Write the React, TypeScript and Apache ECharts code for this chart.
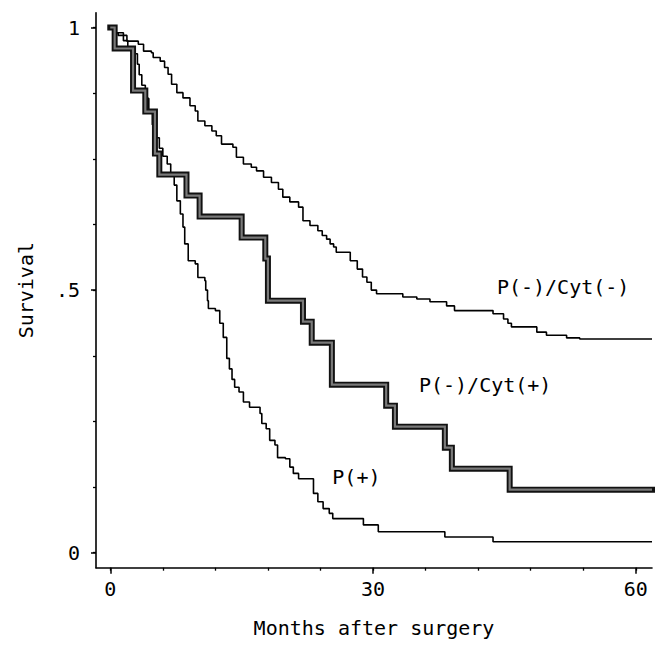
import React, { useEffect, useRef } from "react";
import * as echarts from "echarts";

// P(-)/Cyt(-): [month, survival] – value holds from this month until the next point
const cytNegMonths = [0, 0.3, 0.9, 1.9, 3.2, 3.8, 4.7, 4.9, 5.7, 6.2, 6.6, 7.0, 7.6, 8.3, 9.1, 9.7, 10.0, 10.8, 11.6, 12.1, 12.7, 14.0, 14.4, 15.2, 16.1, 16.7, 17.5, 18.4, 19.2, 19.7, 20.5, 21.5, 22.0, 22.8, 23.7, 24.2, 24.7, 25.1, 25.5, 25.8, 27.4, 28.2, 28.8, 29.3, 29.8, 30.4, 33.4, 35.0, 36.5, 38.4, 39.3, 43.7, 44.9, 45.4, 45.8, 48.7, 49.8, 52.1, 53.6, 61.85];
const cytNegSurv = [1.0, 0.99, 0.985, 0.974, 0.968, 0.955, 0.952, 0.943, 0.936, 0.924, 0.911, 0.892, 0.876, 0.866, 0.851, 0.841, 0.822, 0.813, 0.803, 0.794, 0.778, 0.772, 0.753, 0.74, 0.734, 0.727, 0.715, 0.705, 0.692, 0.677, 0.668, 0.658, 0.632, 0.623, 0.613, 0.604, 0.597, 0.588, 0.582, 0.572, 0.556, 0.54, 0.525, 0.515, 0.5, 0.493, 0.487, 0.483, 0.478, 0.47, 0.461, 0.455, 0.445, 0.437, 0.43, 0.42, 0.414, 0.409, 0.407, 0.407];

// P(-)/Cyt(+)
const cytPosMonths = [0, 0.5, 2.6, 4.0, 5.1, 5.6, 8.7, 10.2, 15.0, 17.7, 18.0, 22.0, 23.0, 25.3, 31.5, 32.5, 38.2, 39.0, 45.6, 61.85];
const cytPosSurv = [1.0, 0.96, 0.88, 0.84, 0.76, 0.72, 0.68, 0.64, 0.6, 0.56, 0.48, 0.44, 0.4, 0.32, 0.28, 0.24, 0.2, 0.16, 0.12, 0.12];

// P(+)
const pPosMonths = [0, 0.5, 1.5, 2.0, 2.8, 3.1, 3.3, 3.6, 4.0, 4.4, 4.8, 5.2, 5.6, 6.0, 6.5, 6.9, 7.3, 7.6, 8.0, 8.3, 8.5, 8.9, 9.7, 10.0, 10.8, 10.9, 11.1, 11.2, 12.0, 12.5, 12.9, 13.3, 13.6, 13.9, 14.2, 14.7, 15.2, 15.9, 17.1, 17.3, 17.8, 18.2, 18.8, 19.1, 20.0, 20.5, 20.9, 21.5, 23.2, 23.7, 24.3, 25.0, 25.4, 28.9, 30.6, 38.2, 43.7, 61.85];
const pPosSurv = [1.0, 0.99, 0.975, 0.96, 0.95, 0.93, 0.91, 0.89, 0.865, 0.84, 0.815, 0.79, 0.77, 0.755, 0.74, 0.72, 0.7, 0.67, 0.645, 0.62, 0.588, 0.556, 0.55, 0.524, 0.518, 0.5, 0.48, 0.465, 0.461, 0.437, 0.41, 0.37, 0.35, 0.33, 0.315, 0.306, 0.287, 0.277, 0.265, 0.246, 0.236, 0.214, 0.205, 0.181, 0.179, 0.163, 0.151, 0.141, 0.113, 0.097, 0.084, 0.075, 0.065, 0.053, 0.04, 0.03, 0.021, 0.021];

const xMinorTicks = [0, 6, 12, 18, 24, 30, 36, 42, 48, 54, 60];
const xMajorTicks = [0, 30, 60];
const yMinorTicks = [0, 0.125, 0.25, 0.375, 0.5, 0.625, 0.75, 0.875, 1];
const yMajorTicks = [0, 0.5, 1];
const yTickLabels = ["0", ".5", "1"];

const groupLabels = ["P(-)/Cyt(-)", "P(-)/Cyt(+)", "P(+)"];
const labelAnchors: [number, number][] = [[51.7, 0.505], [42.8, 0.319], [28.1, 0.144]];

const FONT = "'DejaVu Sans Mono', 'Liberation Mono', monospace";

const zip = (xs: number[], ys: number[]) => xs.map((x, i) => [x, ys[i]]);

export default function App() {
  const ref = useRef<HTMLDivElement>(null);
  useEffect(() => {
    if (!ref.current) return;
    const chart = echarts.init(ref.current, undefined, { renderer: "svg" });
    const xMin = -1.63, xMax = 61.85, yMin = -0.0285, yMax = 1.0282;
    const lbl = (i: number) => ({
      symbol: "none",
      data: [
        {
          coord: labelAnchors[i],
          symbol: "circle",
          symbolSize: 0,
          label: {
            show: true,
            position: "inside",
            formatter: groupLabels[i],
            fontFamily: FONT,
            fontSize: 20,
            color: "#000",
          },
        },
      ],
    });
    chart.setOption({
      animation: false,
      backgroundColor: "#fff",
      grid: { left: 96, right: 13, top: 12.7, bottom: 97.3, containLabel: false },
      xAxis: [
        {
          type: "value", min: xMin, max: xMax, position: "bottom",
          axisLine: { show: true, onZero: false, lineStyle: { color: "#000", width: 1.6 } },
          axisTick: { show: true, customValues: xMinorTicks, length: 3, lineStyle: { color: "#000", width: 1.3 } },
          axisLabel: { show: false },
          splitLine: { show: false },
        },
        {
          type: "value", min: xMin, max: xMax, position: "bottom",
          axisLine: { show: false, onZero: false },
          axisTick: { show: true, customValues: xMajorTicks, length: 6, lineStyle: { color: "#000", width: 1.5 } },
          axisLabel: { show: true, customValues: xMajorTicks, margin: 11, fontFamily: FONT, fontSize: 20, color: "#000" },
          splitLine: { show: false },
          name: "Months after surgery",
          nameLocation: "middle",
          nameGap: 50,
          nameTextStyle: { fontFamily: FONT, fontSize: 20, color: "#000" },
        },
      ],
      yAxis: [
        {
          type: "value", min: yMin, max: yMax, position: "left",
          axisLine: { show: true, onZero: false, lineStyle: { color: "#000", width: 1.6 } },
          axisTick: { show: true, customValues: yMinorTicks, length: 3, lineStyle: { color: "#000", width: 1.3 } },
          axisLabel: { show: false },
          splitLine: { show: false },
        },
        {
          type: "value", min: yMin, max: yMax, position: "left",
          axisLine: { show: false, onZero: false },
          axisTick: { show: true, customValues: yMajorTicks, length: 5, lineStyle: { color: "#000", width: 1.5 } },
          axisLabel: {
            show: true, customValues: yMajorTicks, margin: 16, fontFamily: FONT, fontSize: 20, color: "#000",
            formatter: (v: number) => yTickLabels[yMajorTicks.indexOf(v)] ?? String(v),
          },
          splitLine: { show: false },
          name: "Survival",
          nameLocation: "middle",
          nameGap: 60,
          nameRotate: 90,
          nameTextStyle: { fontFamily: FONT, fontSize: 20, color: "#000" },
        },
      ],
      series: [
        {
          type: "line", step: "end", showSymbol: false, symbol: "none",
          data: zip(cytNegMonths, cytNegSurv),
          lineStyle: { color: "#000", width: 1.6 },
          markPoint: lbl(0),
          z: 3,
        },
        {
          type: "line", step: "end", showSymbol: false, symbol: "none",
          data: zip(pPosMonths, pPosSurv),
          lineStyle: { color: "#000", width: 1.6 },
          markPoint: lbl(2),
          z: 3,
        },
        {
          type: "line", step: "end", showSymbol: false, symbol: "none",
          data: zip(cytPosMonths, cytPosSurv),
          lineStyle: { color: "#111", width: 6, cap: "square", join: "miter" },
          markPoint: lbl(1),
          z: 4,
        },
        {
          type: "line", step: "end", showSymbol: false, symbol: "none",
          data: zip(cytPosMonths, cytPosSurv),
          lineStyle: { color: "#7a7a7a", width: 2.2, join: "miter" },
          z: 5,
        },
      ],
    });
    return () => chart.dispose();
  }, []);
  return (
    <div
      ref={ref}
      style={{ position: "absolute", left: 0, top: 0, width: 665, height: 665, background: "#fff" }}
    />
  );
}
